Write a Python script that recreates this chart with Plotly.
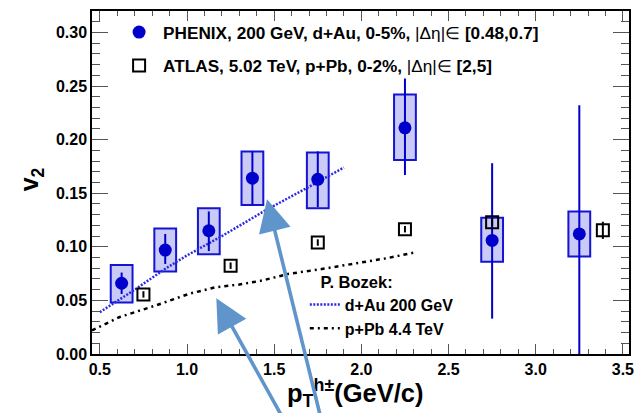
import plotly.graph_objects as go

# ---------------- data ----------------
phenix_pt = [0.625, 0.875, 1.125, 1.375, 1.75, 2.25, 2.75, 3.25]
phenix_v2 = [0.066, 0.097, 0.115, 0.164, 0.163, 0.211, 0.106, 0.112]
phenix_stat_hi = [0.076, 0.112, 0.133, 0.189, 0.189, 0.257, 0.178, 0.232]
phenix_stat_lo = [0.056, 0.084, 0.096, 0.139, 0.137, 0.167, 0.033, -0.010]
phenix_sys_hi = [0.083, 0.117, 0.136, 0.189, 0.188, 0.242, 0.127, 0.133]
phenix_sys_lo = [0.048, 0.077, 0.093, 0.139, 0.136, 0.181, 0.086, 0.091]
phenix_box_width = 0.125

atlas_pt = [0.75, 1.25, 1.75, 2.25, 2.75, 3.385]
atlas_v2 = [0.0556, 0.0824, 0.104, 0.1164, 0.123, 0.1154]
atlas_err = [0.003, 0.003, 0.003, 0.003, 0.004, 0.008]

bozek_dau_pt = [0.5, 0.7, 0.88, 1.0, 1.2, 1.45, 1.7, 1.9]
bozek_dau_v2 = [0.039, 0.060, 0.080, 0.092, 0.110, 0.134, 0.156, 0.174]

bozek_ppb_pt = [0.455, 0.614, 0.823, 1.013, 1.165, 1.30, 1.43, 1.58, 1.774, 1.96, 2.15, 2.307]
bozek_ppb_v2 = [0.022, 0.0345, 0.0454, 0.0562, 0.0623, 0.0648, 0.0685, 0.0747, 0.0793, 0.0845, 0.0895, 0.0947]

x_ticks = [0.5, 1.0, 1.5, 2.0, 2.5, 3.0, 3.5]
x_ticklabels = ["0.5", "1.0", "1.5", "2.0", "2.5", "3.0", "3.5"]
y_ticks = [0.0, 0.05, 0.10, 0.15, 0.20, 0.25, 0.30]
y_ticklabels = ["0.00", "0.05", "0.10", "0.15", "0.20", "0.25", "0.30"]

# ---------------- figure ----------------
FONT = "Liberation Sans, Arial, Helvetica, sans-serif"
BLUE = "#0000cc"

fig = go.Figure()

fig.add_trace(go.Bar(
    x=phenix_pt,
    y=[h - l for h, l in zip(phenix_sys_hi, phenix_sys_lo)],
    base=phenix_sys_lo,
    width=phenix_box_width,
    marker=dict(color="#c9cbf6", line=dict(color="#1414d2", width=2)),
    showlegend=False, hoverinfo="skip",
))

fig.add_trace(go.Scatter(
    x=bozek_dau_pt, y=bozek_dau_v2, mode="lines",
    line=dict(color="#2a2ae6", width=2.5, dash="2px,1.5px"),
    name="d+Au 200 GeV", legend="legend2",
))
fig.add_trace(go.Scatter(
    x=bozek_ppb_pt, y=bozek_ppb_v2, mode="lines",
    line=dict(color="black", width=2.5, dash="4px,4px,2px,4px"),
    name="p+Pb 4.4 TeV", legend="legend2",
))

fig.add_trace(go.Scatter(
    x=phenix_pt, y=phenix_v2, mode="markers",
    marker=dict(symbol="circle", size=13, color=BLUE),
    error_y=dict(type="data", symmetric=False,
                 array=[h - v for h, v in zip(phenix_stat_hi, phenix_v2)],
                 arrayminus=[v - l for v, l in zip(phenix_v2, phenix_stat_lo)],
                 color=BLUE, thickness=2, width=0),
    name="<b>PHENIX, 200 GeV, d+Au, 0-5%, </b>|Δη|∈<b> [0.48,0.7]</b>",
    legend="legend", legendgroup="g1",
))
fig.add_trace(go.Scatter(
    x=atlas_pt, y=atlas_v2, mode="markers",
    marker=dict(symbol="square-open", size=12, color="black", line=dict(width=2)),
    error_y=dict(type="data", array=atlas_err, color="black", thickness=2, width=0),
    name="<b>ATLAS, 5.02 TeV, p+Pb, 0-2%, </b>|Δη|∈<b> [2,5]</b>",
    legend="legend", legendgroup="g2",
))

axis_common = dict(
    showline=True, linecolor="black", linewidth=1.5, mirror="ticks",
    ticks="inside", tickcolor="#555555", tickwidth=1,
    showgrid=False, zeroline=False,
    tickfont=dict(family=FONT, size=16, color="black", weight="bold"),
)

fig.update_xaxes(
    range=[0.455, 3.535], tickvals=x_ticks, ticktext=x_ticklabels, ticklen=10,
    minor=dict(ticks="inside", dtick=0.1, tick0=0.5, ticklen=5, tickcolor="#555555", showgrid=False),
    **axis_common,
)
fig.update_yaxes(
    range=[0, 0.32], tickvals=y_ticks, ticktext=y_ticklabels, ticklen=16,
    minor=dict(ticks="inside", dtick=0.01, tick0=0, ticklen=8, tickcolor="#555555", showgrid=False),
    **axis_common,
)

fig.update_layout(
    width=643, height=413,
    margin=dict(l=92, r=11, t=9, b=59),
    plot_bgcolor="white", paper_bgcolor="white",
    barmode="overlay",
    font=dict(family=FONT, color="black"),
    legend=dict(
        x=0.043, y=0.99, xanchor="left", yanchor="top",
        bgcolor="rgba(0,0,0,0)", traceorder="grouped", tracegroupgap=8,
        itemwidth=38,
        font=dict(family=FONT, size=17.2, color="black"),
    ),
    legend2=dict(
        x=0.3963, y=0.256, xanchor="left", yanchor="top",
        bgcolor="rgba(0,0,0,0)", tracegroupgap=0,
        title=dict(text="<b>&nbsp;&nbsp;&nbsp;P. Bozek:</b>", font=dict(family=FONT, size=16.5, color="black")),
        font=dict(family=FONT, size=16, color="black", weight="bold"),
    ),
    showlegend=True,
)

# axis titles
fig.add_annotation(
    text="p<sub>T</sub><sup>h±</sup>(GeV/c)", xref="paper", yref="paper",
    x=(286 - 92) / 540, y=(354 - 393) / 345, xanchor="left", yanchor="middle",
    showarrow=False, font=dict(family=FONT, size=25.5, color="black", weight="bold"),
)
fig.add_annotation(
    text="v<sub>2</sub>", xref="paper", yref="paper", textangle=-90,
    x=(31 - 92) / 540, y=(354 - 178) / 345, xanchor="center", yanchor="middle",
    showarrow=False, font=dict(family=FONT, size=25, color="black", weight="bold"),
)

# pointer arrows (head and tail positions in data units)
ARROW = "#6095cc"
arrow_heads = [(1.459, 0.1444), (1.168, 0.0519)]
arrow_tails = [(1.778, -0.0667), (1.567, -0.0648)]
for (hx, hy), (tx, ty) in zip(arrow_heads, arrow_tails):
    fig.add_annotation(
        text="", xref="x", yref="y", axref="x", ayref="y",
        x=hx, y=hy, ax=tx, ay=ty,
        showarrow=True, arrowhead=2, arrowsize=1.8, arrowwidth=3.6,
        arrowcolor=ARROW, standoff=0,
    )

fig.write_html("out.html")
